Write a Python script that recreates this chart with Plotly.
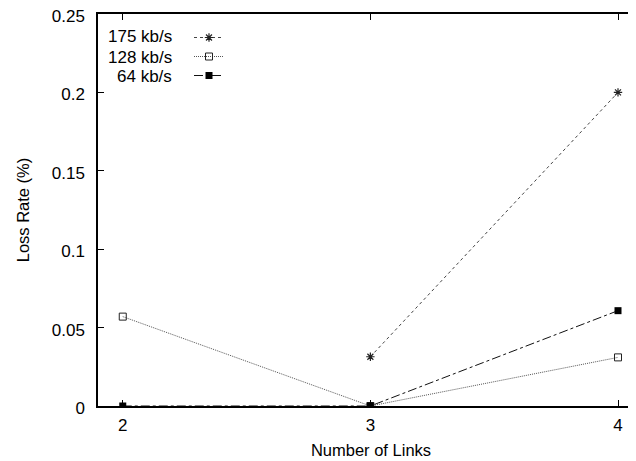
import plotly.graph_objects as go

links = [2, 3, 4]
rate_175 = [None, 0.0314, 0.2]
rate_128 = [0.057, 0.0, 0.031]
rate_64 = [0.0, 0.0, 0.0608]
labels = ["175 kb/s", "128 kb/s", "64 kb/s"]
y_ticks = [0, 0.05, 0.1, 0.15, 0.2, 0.25]
y_ticklabels = ["0", "0.05", "0.1", "0.15", "0.2", "0.25"]

# page is offset by the 8px body margin
W, H = 636, 461
ML, MR, MT, MB = 90, 0, 6, 63
pw = W - ML - MR
ph = H - MT - MB

fig = go.Figure()
fig.add_trace(go.Scatter(x=links, y=rate_175, mode="lines+markers", name=" ",
                         line=dict(color="#444444", width=1, dash="dot"),
                         marker=dict(symbol="asterisk-open", size=7, color="#222222",
                                     line=dict(width=1.2, color="#222222"))))
fig.add_trace(go.Scatter(x=links, y=rate_128, mode="lines+markers", name=" ",
                         line=dict(color="#555555", width=1, dash="1px,1px"),
                         marker=dict(symbol="square-open", size=7, color="#222222",
                                     line=dict(width=1, color="#222222"))))
fig.add_trace(go.Scatter(x=links, y=rate_64, mode="lines+markers", name=" ",
                         line=dict(color="#111111", width=1, dash="dashdot"),
                         marker=dict(symbol="square", size=7, color="#000000",
                                     line=dict(width=0))))

fam = "Liberation Sans, Arial, Helvetica, sans-serif"
font = dict(family=fam, size=17, color="#000000")
tfont = dict(family=fam, size=16.5, color="#000000")

ann = []
row_y = [29, 49, 68]
for lab, yp in zip(labels, row_y):
    ann.append(dict(text=lab, xref="paper", yref="paper",
                    x=(166 - ML) / pw, y=(H - MB - yp) / ph,
                    xanchor="right", yanchor="middle", showarrow=False, font=font))

fig.update_layout(
    width=W, height=H,
    margin=dict(l=ML, r=MR, t=MT, b=MB, autoexpand=False),
    paper_bgcolor="white", plot_bgcolor="white",
    font=font,
    showlegend=True,
    legend=dict(x=(181 - ML) / pw, y=(H - MB - 15) / ph, xanchor="left", yanchor="top",
                bgcolor="rgba(0,0,0,0)", font=dict(family=fam, size=11), tracegroupgap=0,
                itemwidth=30),
    annotations=ann,
    xaxis=dict(range=[1.9, 4.105], tickvals=links, ticktext=[str(v) for v in links],
               ticks="inside", ticklen=6, tickcolor="#000", showline=True, linecolor="#000",
               linewidth=1.5, mirror="ticks", showgrid=False, zeroline=False,
               tickfont=font, ticklabelstandoff=3, ticklabeloverflow="allow", automargin=False,
               title=dict(text="Number of Links", standoff=10, font=tfont)),
    yaxis=dict(range=[0, 0.25], tickvals=y_ticks, ticktext=y_ticklabels,
               ticks="inside", ticklen=6, tickcolor="#000", showline=True, linecolor="#000",
               linewidth=1.5, mirror=False, showgrid=False, zeroline=False,
               tickfont=font, ticklabelstandoff=8, ticklabelshift=2,
               ticklabeloverflow="allow", automargin=False,
               title=dict(text="Loss Rate (%)", standoff=18, font=tfont)),
)

fig.write_html("out.html")
